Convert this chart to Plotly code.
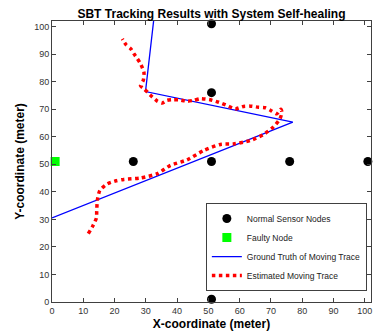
import plotly.graph_objects as go

# Sensor node positions
node_x = [51, 51, 26, 51, 76, 101, 51, 51]
node_y = [101, 76, 51, 51, 51, 51, 26, 1]
faulty_x = [1]
faulty_y = [51]

# Ground truth of moving trace
truth_x = [0, 77, 29.9, 33.3]
truth_y = [30.5, 65.3, 76.4, 110]

# Estimated moving trace
est_x = [11.6, 13.0, 14.2, 14.3, 14.5, 15.3, 17.7, 20.5, 23.0, 28.3, 33.7, 37.9, 43.2,
         48.5, 53.8, 58.0, 63.4, 67.6, 70.8, 72.9, 73.5, 73.2, 71.9, 70.3, 68.2, 66.0,
         63.4, 61.2, 58.6, 56.0, 53.3, 50.6, 47.5, 45.3, 43.2, 40.5, 38.4, 36.8, 35.2,
         33.7, 32.1, 30.5, 29.4, 28.3, 29.2, 29.4, 28.3, 27.3, 26.2, 25.2, 23.6, 22.5]
est_y = [24.8, 27.5, 30.5, 33.0, 36.9, 40.5, 42.9, 44.0, 44.5, 45.0, 46.6, 49.6, 51.6,
         55.0, 57.2, 57.4, 58.6, 60.8, 63.5, 66.5, 68.9, 70.0, 68.3, 69.3, 70.5, 70.7,
         71.1, 71.0, 70.1, 71.3, 72.5, 73.4, 73.8, 73.2, 72.9, 73.4, 73.4, 73.2, 72.2,
         72.9, 74.4, 76.2, 77.4, 78.5, 80.5, 83.4, 86.5, 88.3, 90.1, 91.9, 93.5, 95.5]

tick_vals = list(range(0, 101, 10))
tick_text = [str(v) for v in tick_vals]

FONT = "Arial, Liberation Sans, Helvetica, sans-serif"

fig = go.Figure()
fig.add_trace(go.Scatter(x=node_x, y=node_y, mode="markers", name="Normal Sensor Nodes",
                         marker=dict(color="black", size=9, symbol="circle"),
                         cliponaxis=False))
fig.add_trace(go.Scatter(x=faulty_x, y=faulty_y, mode="markers", name="Faulty Node",
                         marker=dict(color="#00ff00", size=9, symbol="square"),
                         cliponaxis=False))
fig.add_trace(go.Scatter(x=truth_x, y=truth_y, mode="lines", name="Ground Truth of Moving Trace",
                         line=dict(color="#0000ff", width=1.3)))
fig.add_trace(go.Scatter(x=est_x, y=est_y, mode="lines", name="Estimated Moving Trace",
                         line=dict(color="#ff0000", width=3.5, dash="dot", shape="spline",
                                   smoothing=0.6)))

axis_common = dict(
    tickmode="array", tickvals=tick_vals, ticktext=tick_text,
    ticks="inside", ticklen=4, tickcolor="#404040", tickwidth=1,
    showline=True, linecolor="#404040", linewidth=1, mirror="ticks",
    showgrid=False, zeroline=False,
    tickfont=dict(family=FONT, size=9, color="#333333"),
)

fig.update_layout(
    width=374, height=334,
    margin=dict(l=52, r=3, t=21, b=32),
    paper_bgcolor="white", plot_bgcolor="white",
    title=dict(text="<b>SBT Tracking Results with System Self-healing</b>",
               x=0.5, xref="paper", xanchor="center", y=0.97, yref="container",
               font=dict(family=FONT, size=12, color="black")),
    xaxis=dict(range=[0, 102], title=dict(text="<b>X-coordinate (meter)</b>", standoff=4,
               font=dict(family=FONT, size=12, color="black")), **axis_common),
    yaxis=dict(range=[0, 102], title=dict(text="<b>Y-coordinate (meter)</b>", standoff=6,
               font=dict(family=FONT, size=12, color="black")), **axis_common),
    legend=dict(x=0.987, y=0.039, xanchor="right", yanchor="bottom",
                bgcolor="white", bordercolor="#404040", borderwidth=1,
                font=dict(family=FONT, size=8.5, color="#222222"),
                tracegroupgap=0, itemwidth=30),
    showlegend=True,
)

fig.write_html("out.html", config={"displayModeBar": False},
               post_script="document.body.style.margin='0';document.body.style.overflow='hidden';")
